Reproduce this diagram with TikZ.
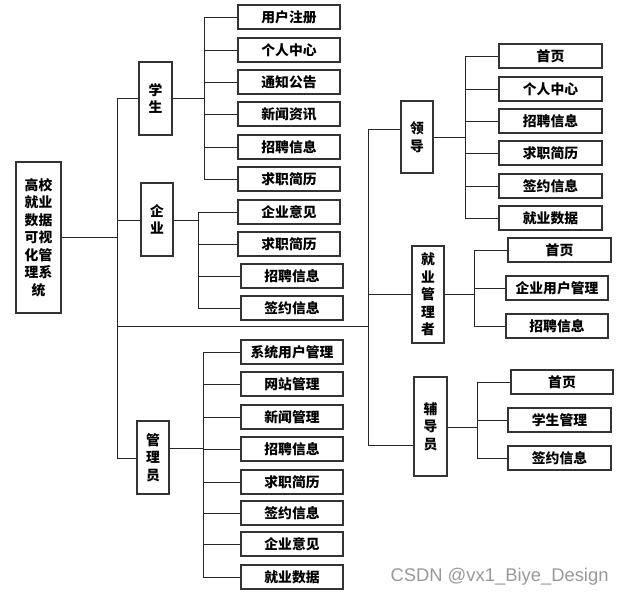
\documentclass[tikz,border=0pt]{standalone}
\usepackage{fontspec}
\setmainfont{Noto Sans CJK SC}
\newfontfamily\markfont{Liberation Sans}
\begin{document}
\begin{tikzpicture}[x=1pt,y=-1pt,
  line width=1pt,
  conn/.style={draw=black!85, line width=1pt},
  box/.style={draw=black!80, line width=1.1pt, inner sep=0pt, align=center,
    font=\fontsize{13.8}{17.5}\selectfont\bfseries},
  leaf/.style={box, minimum height=24pt},
  role/.style={box, minimum width=32pt}
]
\useasboundingbox (0,0) rectangle (621,595);

% root
\node[box, minimum width=45pt, minimum height=151pt] (root) at (38.5,237.5)
  {高校\\就业\\数据\\可视\\化管\\理系\\统};

% main trunk on the left
\coordinate (tTop) at (117,98);
\coordinate (tBot) at (117,458);
\coordinate (tMid) at (117,326);
\draw[conn] (root.east) -- (root.east -| tTop);
\draw[conn] (tTop) -- (tBot);

% right trunk
\coordinate (rTop) at (368,129);
\coordinate (rBot) at (368,445);
\coordinate (rMid) at (368,326);
\draw[conn] (tMid) -- (rMid);
\draw[conn] (rTop) -- (rBot);

% ---------- 学生 ----------
\node[role, minimum width=33pt, minimum height=73pt] (stu) at (155.5,98.5) {学\\生};
\coordinate (sbus) at (204,98);
\draw[conn] (tTop) -- (tTop -| stu.west);
\draw[conn] (stu.east |- sbus) -- (sbus);
\node[leaf, minimum width=102pt] (s1) at (289,17) {用户注册};
\node[leaf, minimum width=102pt] (s2) at (289,50) {个人中心};
\node[leaf, minimum width=102pt] (s3) at (289,82) {通知公告};
\node[leaf, minimum width=102pt] (s4) at (289,114) {新闻资讯};
\node[leaf, minimum width=102pt] (s5) at (289,147) {招聘信息};
\node[leaf, minimum width=102pt] (s6) at (289,179) {求职简历};
\foreach \n in {s1,s2,s3,s4,s5,s6} \draw[conn] (\n.west) -| (sbus);

% ---------- 企业 ----------
\node[role, minimum height=73pt] (ent) at (157,219.5) {企\\业};
\coordinate (ebus) at (198,220);
\draw[conn] (ent.west |- ebus) -- (ebus -| tTop);
\draw[conn] (ent.east |- ebus) -- (ebus);
\node[leaf, minimum width=102pt] (e1) at (289,212) {企业意见};
\node[leaf, minimum width=102pt] (e2) at (289,244) {求职简历};
\node[leaf, minimum width=102pt] (e3) at (292,276) {招聘信息};
\node[leaf, minimum width=102pt] (e4) at (292,308) {签约信息};
\foreach \n in {e1,e2,e3,e4} \draw[conn] (\n.west) -| (ebus);

% ---------- 管理员 ----------
\node[role, minimum height=73pt] (adm) at (153,457.5) {管\\理\\员};
\coordinate (abus) at (203,448);
\draw[conn] (tBot) -- (tBot -| adm.west);
\draw[conn] (adm.east |- abus) -- (abus);
\node[leaf, minimum width=102pt] (a1) at (292,352) {系统用户管理};
\node[leaf, minimum width=102pt] (a2) at (292,384) {网站管理};
\node[leaf, minimum width=102pt] (a3) at (292,417) {新闻管理};
\node[leaf, minimum width=102pt] (a4) at (292,449) {招聘信息};
\node[leaf, minimum width=102pt] (a5) at (292,482) {求职简历};
\node[leaf, minimum width=102pt] (a6) at (292,513) {签约信息};
\node[leaf, minimum width=102pt] (a7) at (292,544) {企业意见};
\node[leaf, minimum width=102pt] (a8) at (292,577) {就业数据};
\foreach \n in {a1,a2,a3,a4,a5,a6,a7,a8} \draw[conn] (\n.west) -| (abus);

% ---------- 领导 ----------
\node[role, minimum height=72pt] (ld) at (417,137) {领\\导};
\coordinate (lbus) at (465,137);
\draw[conn] (rTop) -- (rTop -| ld.west);
\draw[conn] (ld.east) -- (lbus);
\node[leaf, minimum width=103pt] (l1) at (550.5,56) {首页};
\node[leaf, minimum width=103pt] (l2) at (550.5,89) {个人中心};
\node[leaf, minimum width=103pt] (l3) at (550.5,121) {招聘信息};
\node[leaf, minimum width=103pt] (l4) at (550.5,153) {求职简历};
\node[leaf, minimum width=103pt] (l5) at (550.5,186) {签约信息};
\node[leaf, minimum width=103pt] (l6) at (550.5,218) {就业数据};
\foreach \n in {l1,l2,l3,l4,l5,l6} \draw[conn] (\n.west) -| (lbus);

% ---------- 就业管理者 ----------
\node[role, minimum height=97pt] (mgr) at (428,294.5) {就\\业\\管\\理\\者};
\coordinate (mbus) at (474,294);
\draw[conn] (mgr.west |- mbus) -- (mbus -| rTop);
\draw[conn] (mgr.east |- mbus) -- (mbus);
\node[leaf, minimum width=103pt] (m1) at (559.5,250) {首页};
\node[leaf, minimum width=102pt] (m2) at (557,288) {企业用户管理};
\node[leaf, minimum width=102pt] (m3) at (557,326) {招聘信息};
\foreach \n in {m1,m2,m3} \draw[conn] (\n.west) -| (mbus);

% ---------- 辅导员 ----------
\node[role, minimum width=33pt, minimum height=99pt] (cou) at (430.5,426.5) {辅\\导\\员};
\coordinate (cbus) at (477,427);
\draw[conn] (rBot) -- (rBot -| cou.west);
\draw[conn] (cou.east |- cbus) -- (cbus);
\node[leaf, minimum width=102pt] (c1) at (562,382) {首页};
\node[leaf, minimum width=103pt] (c2) at (559.5,420) {学生管理};
\node[leaf, minimum width=103pt] (c3) at (559.5,458) {签约信息};
\foreach \n in {c1,c2,c3} \draw[conn] (\n.west) -| (cbus);

% watermark
\node[anchor=west, inner sep=0pt, text=black!40, font=\markfont\fontsize{18.4}{21}\selectfont]
  (mark) at (390,577) {CSDN @vx1\_Biye\_Design};
\end{tikzpicture}
\end{document}
